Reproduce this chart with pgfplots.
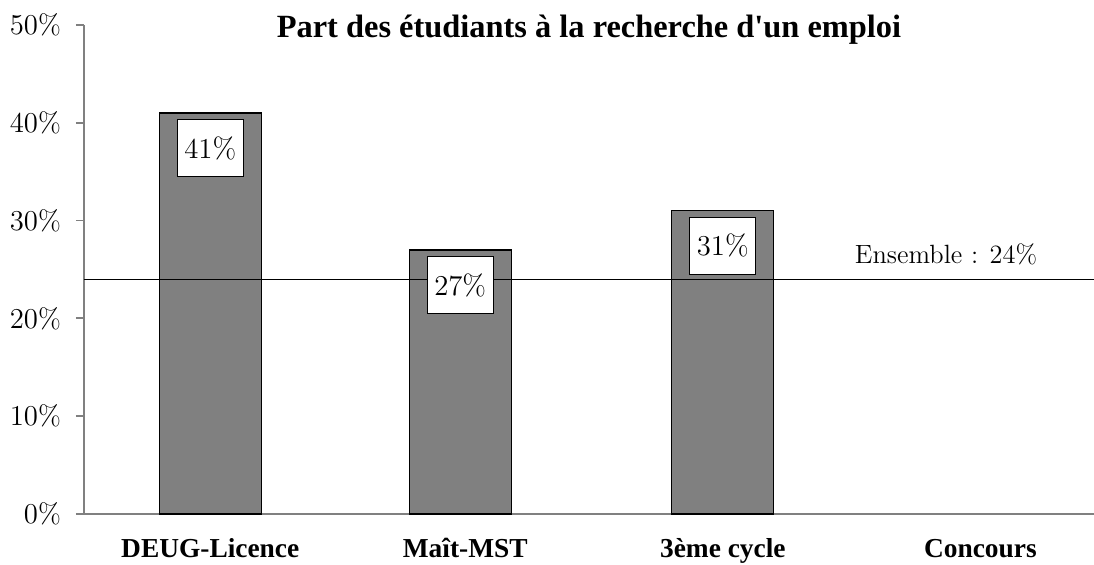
\documentclass[border=0pt]{standalone}
\usepackage{pgfplots}
\pgfplotsset{compat=1.18}
\usepackage{fontspec}
\newfontfamily\timesbold{Liberation Serif}
\usetikzlibrary{calc}
\begin{document}
\begin{tikzpicture}
\begin{axis}[
 scale only axis, width=505pt, height=244.5pt,
 xmin=-0.5, xmax=3.5, ymin=0, ymax=50,
 axis x line=bottom, axis y line=left,
 axis line style={-, draw=gray, line width=0.9pt},
 ytick={0,10,20,30,40,50},
 yticklabel={\pgfmathprintnumber{\tick}\%},
 yticklabel style={font=\fontsize{14}{14}\selectfont, xshift=-4pt},
 y tick style={gray, line width=0.9pt},
 tick align=outside, major tick length=4pt,
 xtick={0,1.01,2.03,3.05},
 xticklabels={DEUG-Licence, Maît-MST, 3ème cycle, Concours},
 xticklabel style={font=\timesbold\bfseries\fontsize{13.7}{13.7}\selectfont, anchor=base, yshift=-18pt},
 x tick style={draw=none},
 clip=false,
]
\addplot[ybar, bar width=51pt, fill=gray, draw=black, line width=0.6pt,
  nodes near coords={\pgfmathprintnumber{\pgfplotspointmeta}\%},
  every node near coord/.append style={anchor=north, yshift=-3pt, draw=black, line width=0.6pt, fill=white, minimum width=33pt, minimum height=28.5pt, inner sep=0pt, font=\fontsize{14.5}{14.5}\selectfont, text=black}
] coordinates {(0,41) (0.99,27) (2.03,31)};
\addplot[black, line width=0.7pt] coordinates {(-0.5,24) (3.5,24)};
\node[anchor=base, font=\fontsize{13.2}{13.2}\selectfont] at (axis cs:2.914,25.66) {Ensemble : 24\%};
\node[anchor=base, font=\timesbold\bfseries\fontsize{16.2}{16.2}\selectfont] at ([yshift=-6.5pt]rel axis cs:0.5,1) {Part des étudiants à la recherche d'un emploi};
\end{axis}
\pgfresetboundingbox
\path[use as bounding box] ($(current axis.south west)+(-42pt,-25.5pt)$) rectangle ($(current axis.north east)+(0pt,12.5pt)$);
\end{tikzpicture}
\end{document}
